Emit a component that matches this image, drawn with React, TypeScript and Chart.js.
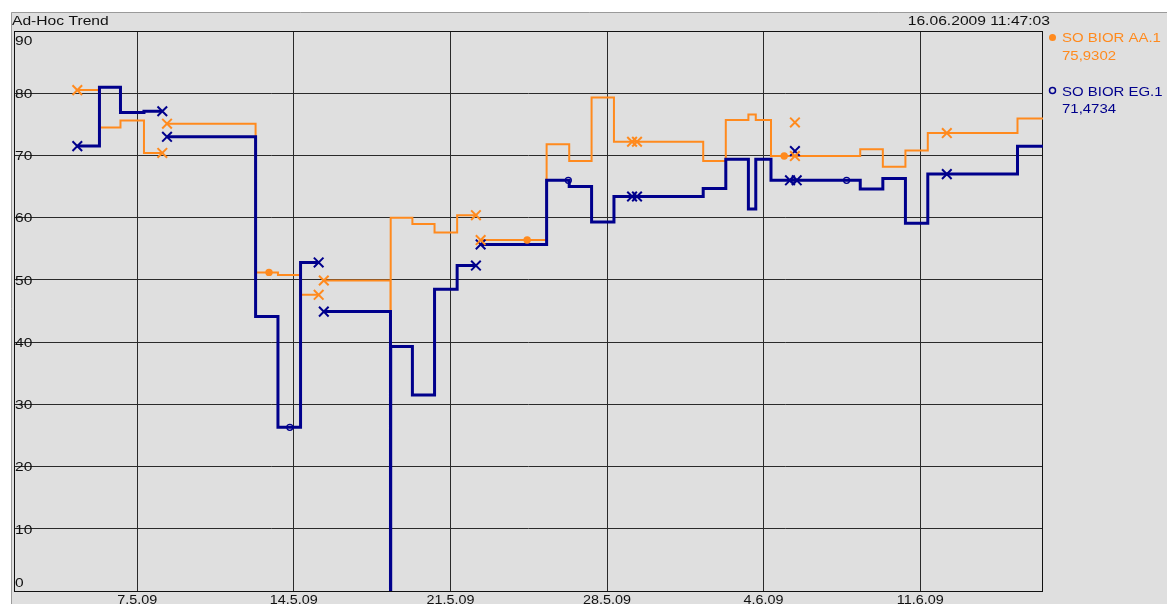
import React, { useEffect, useRef } from 'react';
import { Chart, registerables } from 'chart.js';

Chart.register(...registerables);

// x values are days since 1 May 2009 00:00
const xMinDay = 0.49;
const xMaxDay = 46.49;
const xTickDays = [6, 13, 20, 27, 34, 41];
const xTickLabels = ['7.5.09', '14.5.09', '21.5.09', '28.5.09', '4.6.09', '11.6.09'];
const yTickValues = [0, 10, 20, 30, 40, 50, 60, 70, 80, 90];

const aaDays = [3.32, 4.31, 5.25, 6.3, 7.12, 7.2, 7.33, 11.29, 12.29, 13.3, 14.11, 14.2, 14.34, 17.32, 17.33, 18.3, 19.29, 20.3, 21.14, 21.2, 21.35, 24.3, 25.31, 26.31, 27.31, 31.3, 32.31, 33.32, 33.65, 34.33, 38.32, 39.33, 40.34, 41.34, 45.35, 46.49];
const aaValues = [80.5, 74.5, 75.6, 70.4, 70.4, null, 75.1, 51.2, 50.8, 47.6, 47.6, null, 49.9, 40.0, 60.0, 59.0, 57.6, 60.4, 60.4, null, 56.4, 71.8, 69.1, 79.3, 72.2, 69.1, 75.7, 76.6, 75.7, 69.9, 71.0, 68.2, 70.8, 73.6, 75.93, 75.93];

const egDays = [3.32, 4.31, 5.25, 6.3, 7.12, 7.2, 7.33, 11.29, 12.29, 13.3, 14.11, 14.2, 14.34, 17.32, 17.33, 18.3, 19.29, 20.3, 21.14, 21.2, 21.35, 24.3, 25.31, 26.31, 27.31, 31.3, 32.31, 33.32, 33.65, 34.33, 38.32, 39.33, 40.34, 41.34, 45.35, 46.49];
const egValues = [71.5, 80.95, 76.9, 77.1, 77.1, null, 73.0, 44.1, 26.3, 52.8, 52.8, null, 44.9, 0, 39.3, 31.5, 48.5, 52.3, 52.3, null, 55.7, 66.0, 65.0, 59.3, 63.4, 64.7, 69.4, 61.4, 69.4, 66.0, 64.6, 66.3, 59.1, 67.0, 71.47, 71.47];

const aaCrossDays = [3.32, 7.12, 7.33, 14.11, 14.34, 21.14, 21.35, 28.12, 28.34, 35.4, 35.4, 42.19];
const aaCrossValues = [80.5, 70.4, 75.1, 47.6, 49.9, 60.4, 56.4, 72.2, 72.2, 69.9, 75.3, 73.6];
const aaDotDays = [11.89, 23.43, 34.92];
const aaDotValues = [51.2, 56.4, 69.9];

const egCrossDays = [3.32, 7.12, 7.33, 14.11, 14.34, 21.14, 21.35, 28.12, 28.34, 35.18, 35.48, 35.4, 42.19];
const egCrossValues = [71.5, 77.1, 73.0, 52.8, 44.9, 52.3, 55.7, 63.4, 63.4, 66.0, 66.0, 70.7, 67.0];
const egRingDays = [12.82, 25.27, 35.33, 37.71];
const egRingValues = [26.3, 66.0, 66.0, 66.0];

const headerTitle = 'Ad-Hoc Trend';
const headerTime = '16.06.2009 11:47:03';
const legendNames = ['SO BIOR AA.1', 'SO BIOR EG.1'];
const legendValues = ['75,9302', '71,4734'];

const ORANGE = '#ff8a1e';
const BLUE = '#00008c';
const PANEL = '#dfdfdf';
const FONT = '"Liberation Sans", Arial, sans-serif';
const SX = 1.15;

const pts = (xs: number[], ys: (number | null)[]) => xs.map((x, i) => ({ x, y: ys[i] }));

function drawText(ctx: CanvasRenderingContext2D, text: string, x: number, y: number, align: string, color: string, size = 13) {
  ctx.save();
  ctx.font = `${size}px ${FONT}`;
  ctx.fillStyle = color;
  ctx.textBaseline = 'alphabetic';
  ctx.textAlign = 'left';
  const w = ctx.measureText(text).width * SX;
  const x0 = align === 'left' ? x : align === 'right' ? x - w : x - w / 2;
  ctx.translate(x0, y);
  ctx.scale(SX, 1);
  ctx.fillText(text, 0, 0);
  ctx.restore();
}

const decorPlugin = {
  id: 'decor',
  beforeDraw(chart: any) {
    const ctx: CanvasRenderingContext2D = chart.ctx;
    const W = chart.width;
    const H = chart.height;
    ctx.save();
    ctx.fillStyle = '#ffffff';
    ctx.fillRect(0, 0, W, H);
    ctx.fillStyle = PANEL;
    ctx.fillRect(11, 12, W - 11, H - 12);
    ctx.strokeStyle = '#9a9a9a';
    ctx.lineWidth = 1;
    ctx.beginPath();
    ctx.moveTo(11.5, H);
    ctx.lineTo(11.5, 12.5);
    ctx.lineTo(W, 12.5);
    ctx.stroke();
    ctx.restore();
  },
  beforeDatasetsDraw(chart: any) {
    const ctx: CanvasRenderingContext2D = chart.ctx;
    const a = chart.chartArea;
    ctx.save();
    ctx.strokeStyle = '#111111';
    ctx.lineWidth = 1;
    ctx.strokeRect(a.left + 0.5, a.top + 0.5, a.right - a.left - 1, a.bottom - a.top);
    ctx.restore();
    const ys = chart.scales.y;
    yTickValues.forEach((v) => {
      let py = ys.getPixelForValue(v);
      py = Math.max(a.top + 9, Math.min(a.bottom - 8.5, py));
      drawText(ctx, String(v), a.left + 1, py + 4.8, 'left', '#111111', 13.5);
    });
  },
  afterDraw(chart: any) {
    const ctx: CanvasRenderingContext2D = chart.ctx;
    const xs = chart.scales.x;
    xTickDays.forEach((d, i) => {
      drawText(ctx, xTickLabels[i], xs.getPixelForValue(d), 604, 'center', '#111111', 12.5);
    });
    drawText(ctx, headerTitle, 12, 25, 'left', '#111111', 13.6);
    drawText(ctx, headerTime, 1050, 25, 'right', '#111111', 13.6);
    // legend
    ctx.save();
    ctx.fillStyle = ORANGE;
    ctx.beginPath();
    ctx.arc(1052.5, 37.5, 3.5, 0, Math.PI * 2);
    ctx.fill();
    ctx.strokeStyle = BLUE;
    ctx.lineWidth = 1.5;
    ctx.beginPath();
    ctx.arc(1052.5, 90.5, 3, 0, Math.PI * 2);
    ctx.stroke();
    ctx.restore();
    drawText(ctx, legendNames[0], 1062, 42, 'left', ORANGE, 13);
    drawText(ctx, legendValues[0], 1062, 60, 'left', ORANGE, 13);
    drawText(ctx, legendNames[1], 1062, 96, 'left', BLUE, 13);
    drawText(ctx, legendValues[1], 1062, 113, 'left', BLUE, 13);
  },
};

export default function App() {
  const ref = useRef<HTMLCanvasElement>(null);
  useEffect(() => {
    if (!ref.current) return;
    const chart = new Chart(ref.current, {
      type: 'line',
      data: {
        datasets: [
          {
            type: 'scatter',
            label: 'aa-cross',
            data: pts(aaCrossDays, aaCrossValues),
            showLine: false,
            pointStyle: 'crossRot',
            pointRadius: 6.8,
            borderColor: ORANGE,
            pointBorderWidth: 2,
            order: 0,
          },
          {
            type: 'scatter',
            label: 'aa-dot',
            data: pts(aaDotDays, aaDotValues),
            showLine: false,
            pointStyle: 'circle',
            pointRadius: 3.7,
            backgroundColor: ORANGE,
            borderColor: ORANGE,
            pointBorderWidth: 0,
            order: 0,
          },
          {
            type: 'scatter',
            label: 'eg-cross',
            data: pts(egCrossDays, egCrossValues),
            showLine: false,
            pointStyle: 'crossRot',
            pointRadius: 6.8,
            borderColor: BLUE,
            pointBorderWidth: 2,
            order: 0,
          },
          {
            type: 'scatter',
            label: 'eg-ring',
            data: pts(egRingDays, egRingValues),
            showLine: false,
            pointStyle: 'circle',
            pointRadius: 3,
            backgroundColor: 'rgba(0,0,0,0)',
            borderColor: BLUE,
            pointBorderWidth: 1.3,
            order: 0,
          },
          {
            label: legendNames[1],
            data: pts(egDays, egValues),
            stepped: true,
            borderColor: BLUE,
            borderWidth: 3,
            pointRadius: 0,
            spanGaps: false,
            fill: false,
            order: 1,
          },
          {
            label: legendNames[0],
            data: pts(aaDays, aaValues),
            stepped: true,
            borderColor: ORANGE,
            borderWidth: 2,
            pointRadius: 0,
            spanGaps: false,
            fill: false,
            order: 2,
          },
        ],
      },
      options: {
        animation: false,
        responsive: false,
        devicePixelRatio: 1,
        layout: { padding: { left: 14, top: 31, right: 124, bottom: 13 } },
        plugins: { legend: { display: false }, tooltip: { enabled: false } },
        scales: {
          x: {
            type: 'linear',
            min: xMinDay,
            max: xMaxDay,
            afterBuildTicks: (scale: any) => {
              scale.ticks = xTickDays.map((v) => ({ value: v }));
            },
            ticks: { display: false },
            grid: { color: '#2a2a2a', lineWidth: 1, drawTicks: false },
            border: { display: false },
          },
          y: {
            type: 'linear',
            min: 0,
            max: 90,
            ticks: { display: false, stepSize: 10 },
            grid: { color: '#2a2a2a', lineWidth: 1, drawTicks: false },
            border: { display: false },
          },
        },
      },
      plugins: [decorPlugin],
    } as any);
    return () => chart.destroy();
  }, []);
  return (
    <div style={{ position: 'fixed', left: 0, top: 0, width: 1167, height: 604 }}>
      <canvas ref={ref} width={1167} height={604} style={{ display: 'block' }} />
    </div>
  );
}
